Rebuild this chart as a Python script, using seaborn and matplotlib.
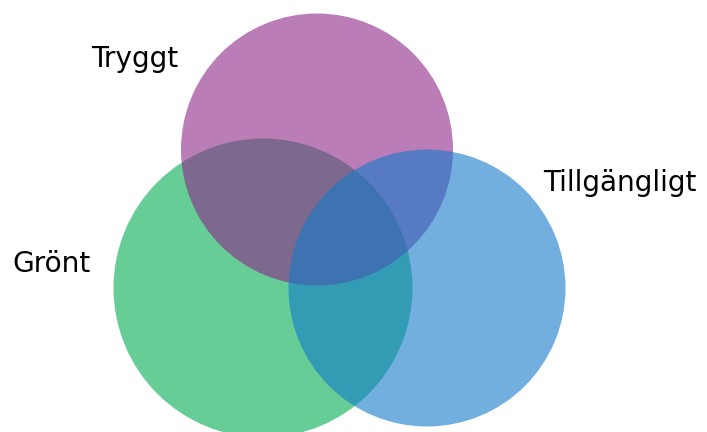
import matplotlib.pyplot as plt
import seaborn as sns
from matplotlib.patches import Circle

# circles (pixel coords of the 707x432 picture)
sets = ['Grönt', 'Tryggt', 'Tillgängligt']
centers_x = [263, 317, 427]
centers_y = [288, 149.5, 288]
radii = [149.5, 136, 138.5]
colors = ['#00AD50', '#8F268A', '#147BCB']

# label positions (left, baseline)
label_x = [12, 91, 543]
label_y = [272, 67, 191]

sns.set_theme(style='white')
plt.rcParams['font.family'] = ['DejaVu Sans']

fig = plt.figure(figsize=(7.07, 4.32), dpi=100)
ax = fig.add_axes([0, 0, 1, 1])

for cx, cy, r, c in zip(centers_x, centers_y, radii, colors):
    ax.add_patch(Circle((cx, cy), r, facecolor=c, edgecolor='none', alpha=0.6))

for name, x, y in zip(sets, label_x, label_y):
    ax.text(x, y, name, fontsize=20.2, color='black', ha='left', va='baseline')

ax.set_xlim(0, 707)
ax.set_ylim(432, 0)
ax.set_aspect('equal')
ax.axis('off')

plt.savefig('out.png', dpi=100)
